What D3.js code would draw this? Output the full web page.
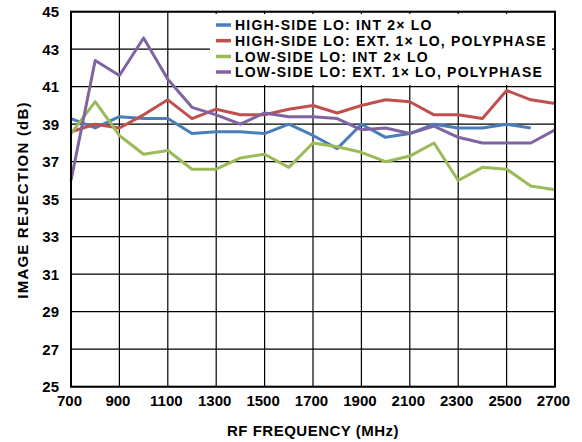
<!DOCTYPE html>
<html><head><meta charset="utf-8">
<script src="https://cdn.jsdelivr.net/npm/d3@7"></script>
<style>
body{margin:0;background:#fff;}
text{font-family:"Liberation Sans",Arial,sans-serif;font-weight:bold;}
</style></head>
<body><svg id="c" width="582" height="442"></svg>
<script>
const freqs = [700,800,900,1000,1100,1200,1300,1400,1500,1600,1700,1800,1900,2000,2100,2200,2300,2400,2500,2600,2700];
const highSideInt = [39.3,38.8,39.4,39.3,39.3,38.5,38.6,38.6,38.5,39.0,38.4,37.7,39.0,38.3,38.5,39.0,38.8,38.8,39.0,38.8,null];
const highSideExt = [38.6,39.0,38.8,39.5,40.3,39.3,39.8,39.5,39.5,39.8,40.0,39.6,40.0,40.3,40.2,39.5,39.5,39.3,40.8,40.3,40.1];
const lowSideInt  = [38.5,40.2,38.4,37.4,37.6,36.6,36.6,37.2,37.4,36.7,38.0,37.8,37.5,37.0,37.3,38.0,36.0,36.7,36.6,35.7,35.5];
const lowSideExt  = [36.0,42.4,41.6,43.6,41.4,39.9,39.5,39.0,39.6,39.4,39.4,39.3,38.7,38.8,38.5,38.9,38.3,38.0,38.0,38.0,38.7];
const seriesNames = ["HIGH-SIDE LO: INT 2\u00d7 LO","HIGH-SIDE LO: EXT. 1\u00d7 LO, POLYPHASE","LOW-SIDE LO: INT 2\u00d7 LO","LOW-SIDE LO: EXT. 1\u00d7 LO, POLYPHASE"];
const seriesColors = ["#4a7ebb","#c0504d","#9bbb59","#8064a2"];
const xTicks = [700,900,1100,1300,1500,1700,1900,2100,2300,2500,2700];
const yTicks = [25,27,29,31,33,35,37,39,41,43,45];

const series = [highSideInt,highSideExt,lowSideInt,lowSideExt];
const svg = d3.select("#c");
const L=71,R=555,T=11.7,B=386.7;
const x = d3.scaleLinear().domain([700,2700]).range([L,R]);
const y = d3.scaleLinear().domain([25,45]).range([B,T]);

// grid
const g = svg.append("g");
g.selectAll(".vg").data(xTicks).enter().append("line")
 .attr("x1",d=>x(d)).attr("x2",d=>x(d)).attr("y1",T).attr("y2",B)
 .attr("stroke","#000").attr("stroke-width",1.2);
g.selectAll(".hg").data(yTicks).enter().append("line")
 .attr("x1",L).attr("x2",R).attr("y1",d=>y(d)).attr("y2",d=>y(d))
 .attr("stroke","#000").attr("stroke-width",1.2);

// lines
const line = d3.line().defined(d=>d[1]!=null).x(d=>x(d[0])).y(d=>y(d[1]));
series.forEach((s,i)=>{
  svg.append("path").datum(freqs.map((f,j)=>[f,s[j]]))
   .attr("d",line).attr("fill","none").attr("stroke",seriesColors[i])
   .attr("stroke-width",3).attr("stroke-linejoin","round");
});

// legend
const lg = svg.append("g");
lg.append("rect").attr("x",210).attr("y",14).attr("width",342).attr("height",71).attr("fill","#fff");
const ly=[25,40.7,56.5,72];
seriesNames.forEach((n,i)=>{
  lg.append("line").attr("x1",216).attr("x2",231).attr("y1",ly[i]).attr("y2",ly[i])
   .attr("stroke",seriesColors[i]).attr("stroke-width",3.5);
  lg.append("text").attr("x",235).attr("y",ly[i]).attr("dy","0.36em")
   .attr("font-size",14).attr("letter-spacing",1.2).attr("fill","#000").text(n);
});

// frame
svg.append("rect").attr("x",L).attr("y",T).attr("width",R-L).attr("height",B-T)
 .attr("fill","none").attr("stroke","#000").attr("stroke-width",2);

// axes
const xa = svg.append("g").attr("transform",`translate(-2,${B})`)
 .call(d3.axisBottom(x).tickValues(xTicks).tickFormat(d3.format("d")).tickSize(0).tickPadding(9));
xa.select(".domain").remove();
xa.selectAll("text").attr("font-size",15).attr("fill","#000").style("font-family","Liberation Sans, Arial").style("font-weight","bold");
const ya = svg.append("g").attr("transform",`translate(${L},0)`)
 .call(d3.axisLeft(y).tickValues(yTicks).tickSize(0).tickPadding(12));
ya.select(".domain").remove();
ya.selectAll("text").attr("font-size",15).attr("fill","#000").style("font-family","Liberation Sans, Arial").style("font-weight","bold");

svg.append("text").attr("x",313).attr("y",436).attr("text-anchor","middle")
 .attr("font-size",15).attr("letter-spacing",0.5).text("RF FREQUENCY (MHz)");
svg.append("text").attr("transform",`translate(28,200) rotate(-90)`)
 .attr("text-anchor","middle").attr("font-size",15).attr("letter-spacing",1.2).text("IMAGE REJECTION (dB)");
</script></body></html>
